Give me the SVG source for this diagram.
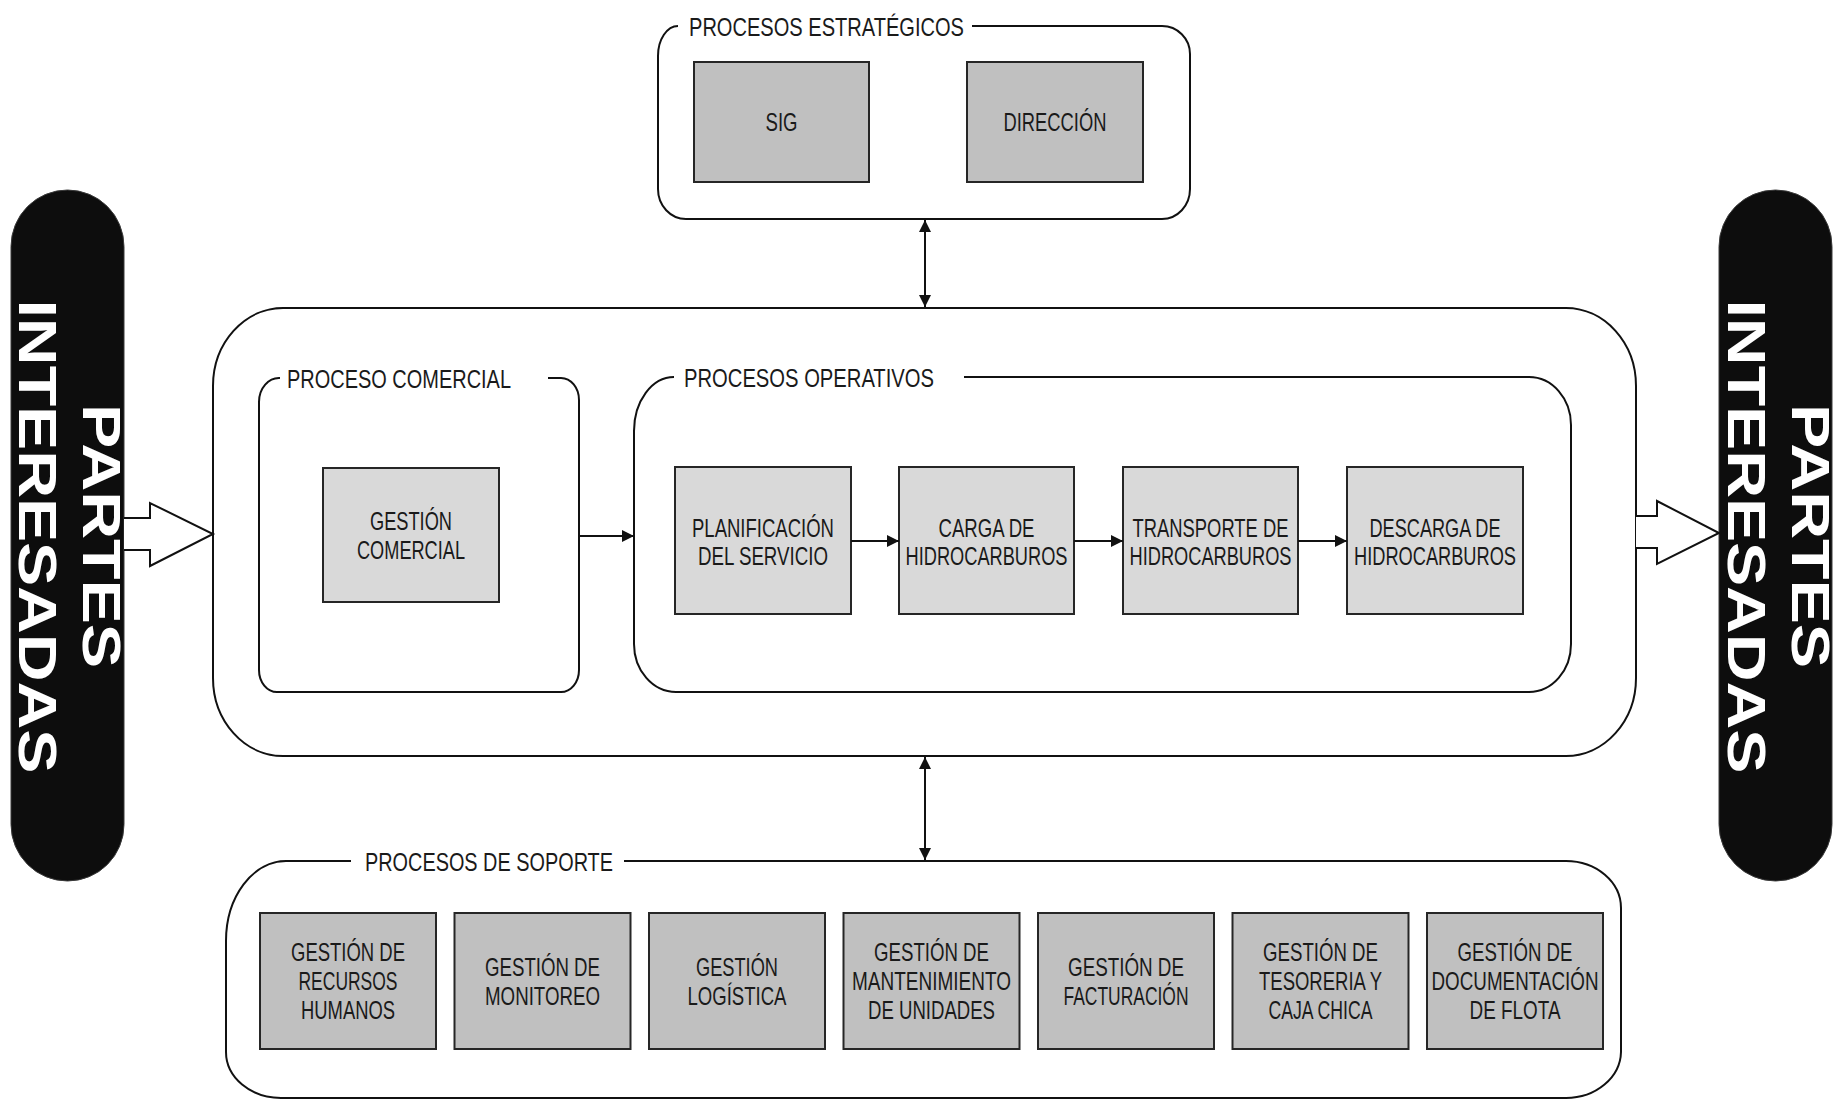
<svg xmlns="http://www.w3.org/2000/svg" width="1837" height="1101" viewBox="0 0 1837 1101">
<style>
.bg{fill:#ffffff}
.grp{fill:none;stroke:#111;stroke-width:2}
.grpw{fill:#ffffff;stroke:#111;stroke-width:2}
.boxd{fill:#c0c0c0;stroke:#262626;stroke-width:2}
.boxl{fill:#d9d9d9;stroke:#262626;stroke-width:2}
.pill{fill:#0d0d0d;stroke:#3a3a3a;stroke-width:1}
.t{font-family:"Liberation Sans",Arial,sans-serif;font-size:26px;fill:#1a1a1a;text-anchor:middle}
.lbl{font-family:"Liberation Sans",Arial,sans-serif;font-size:26px;fill:#1a1a1a;text-anchor:start}
.pt{font-family:"Liberation Sans",Arial,sans-serif;font-size:53px;font-weight:bold;fill:#ffffff;text-anchor:middle}
.con{fill:none;stroke:#111;stroke-width:2}
.hollow{fill:#ffffff;stroke:#111;stroke-width:2;stroke-linejoin:miter}
</style>
<defs>
<marker id="ah" markerUnits="userSpaceOnUse" markerWidth="13" markerHeight="12" refX="12" refY="6" orient="auto-start-reverse">
<path d="M0,0 L12,6 L0,12 z" fill="#111"/>
</marker>
</defs>
<rect class="bg" x="0" y="0" width="1837" height="1101"/>

<!-- Main container -->
<g id="main-container">
<rect class="grpw" x="213" y="308" width="1423" height="448" rx="70" ry="78"/>
</g>

<!-- Strategic -->
<g id="procesos-estrategicos">
<path class="grp" d="M 972,26 H 1162 A 28,28 0 0 1 1190,54 V 189 A 28,30 0 0 1 1162,219 H 686 A 28,30 0 0 1 658,189 V 56 A 20,30 0 0 1 678,26"/>
<text class="lbl" x="689" y="36" textLength="275" lengthAdjust="spacingAndGlyphs">PROCESOS ESTRATÉGICOS</text>
</g>
<g id="sig">
<rect class="boxd" x="694" y="62" width="175" height="120"/>
<text class="t" x="781.5" y="131" textLength="32" lengthAdjust="spacingAndGlyphs">SIG</text>
</g>
<g id="direccion">
<rect class="boxd" x="967" y="62" width="176" height="120"/>
<text class="t" x="1055" y="131" textLength="103" lengthAdjust="spacingAndGlyphs">DIRECCIÓN</text>
</g>

<!-- Comercial -->
<g id="proceso-comercial">
<path class="grp" d="M 548,378 H 561 A 18,22 0 0 1 579,400 V 670 A 18,22 0 0 1 561,692 H 277 A 18,22 0 0 1 259,670 V 402 A 20,24 0 0 1 280,378"/>
<text class="lbl" x="287" y="388" textLength="224" lengthAdjust="spacingAndGlyphs">PROCESO COMERCIAL</text>
</g>
<g id="gestion-comercial">
<rect class="boxl" x="323" y="468" width="176" height="134"/>
<text class="t" x="411" y="530" textLength="82" lengthAdjust="spacingAndGlyphs">GESTIÓN</text>
<text class="t" x="411" y="559" textLength="108" lengthAdjust="spacingAndGlyphs">COMERCIAL</text>
</g>

<!-- Operativos -->
<g id="procesos-operativos">
<path class="grp" d="M 964,377 H 1529 A 42,48 0 0 1 1571,425 V 644 A 42,48 0 0 1 1529,692 H 676 A 42,48 0 0 1 634,644 V 431 A 40,54 0 0 1 674,377"/>
<text class="lbl" x="684" y="387" textLength="250" lengthAdjust="spacingAndGlyphs">PROCESOS OPERATIVOS</text>
</g>
<g id="planificacion">
<rect class="boxl" x="675" y="467" width="176" height="147"/>
<text class="t" x="763" y="537" textLength="142" lengthAdjust="spacingAndGlyphs">PLANIFICACIÓN</text>
<text class="t" x="763" y="565" textLength="130" lengthAdjust="spacingAndGlyphs">DEL SERVICIO</text>
</g>
<g id="carga">
<rect class="boxl" x="899" y="467" width="175" height="147"/>
<text class="t" x="986.5" y="537" textLength="96" lengthAdjust="spacingAndGlyphs">CARGA DE</text>
<text class="t" x="986.5" y="565" textLength="162" lengthAdjust="spacingAndGlyphs">HIDROCARBUROS</text>
</g>
<g id="transporte">
<rect class="boxl" x="1123" y="467" width="175" height="147"/>
<text class="t" x="1210.5" y="537" textLength="156" lengthAdjust="spacingAndGlyphs">TRANSPORTE DE</text>
<text class="t" x="1210.5" y="565" textLength="162" lengthAdjust="spacingAndGlyphs">HIDROCARBUROS</text>
</g>
<g id="descarga">
<rect class="boxl" x="1347" y="467" width="176" height="147"/>
<text class="t" x="1435" y="537" textLength="131" lengthAdjust="spacingAndGlyphs">DESCARGA DE</text>
<text class="t" x="1435" y="565" textLength="162" lengthAdjust="spacingAndGlyphs">HIDROCARBUROS</text>
</g>

<!-- Soporte -->
<g id="procesos-soporte">
<path class="grp" d="M 624,861 H 1566 A 55,47 0 0 1 1621,908 V 1052 A 55,47 0 0 1 1566,1098 H 281 A 55,46 0 0 1 226,1052 V 941 A 60,80 0 0 1 286,861 H 351"/>
<text class="lbl" x="365" y="871" textLength="248" lengthAdjust="spacingAndGlyphs">PROCESOS DE SOPORTE</text>
</g>
<g id="gestion-rrhh">
<rect class="boxd" x="260" y="913" width="176" height="136"/>
<text class="t" x="348" y="961" textLength="114" lengthAdjust="spacingAndGlyphs">GESTIÓN DE</text>
<text class="t" x="348" y="990" textLength="99" lengthAdjust="spacingAndGlyphs">RECURSOS</text>
<text class="t" x="348" y="1019" textLength="94" lengthAdjust="spacingAndGlyphs">HUMANOS</text>
</g>
<g id="gestion-monitoreo">
<rect class="boxd" x="454.5" y="913" width="176" height="136"/>
<text class="t" x="542.5" y="976" textLength="115" lengthAdjust="spacingAndGlyphs">GESTIÓN DE</text>
<text class="t" x="542.5" y="1005" textLength="115" lengthAdjust="spacingAndGlyphs">MONITOREO</text>
</g>
<g id="gestion-logistica">
<rect class="boxd" x="649" y="913" width="176" height="136"/>
<text class="t" x="737" y="976" textLength="82" lengthAdjust="spacingAndGlyphs">GESTIÓN</text>
<text class="t" x="737" y="1005" textLength="99" lengthAdjust="spacingAndGlyphs">LOGÍSTICA</text>
</g>
<g id="gestion-mantenimiento">
<rect class="boxd" x="843.5" y="913" width="176" height="136"/>
<text class="t" x="931.5" y="961" textLength="115" lengthAdjust="spacingAndGlyphs">GESTIÓN DE</text>
<text class="t" x="931.5" y="990" textLength="159" lengthAdjust="spacingAndGlyphs">MANTENIMIENTO</text>
<text class="t" x="931.5" y="1019" textLength="127" lengthAdjust="spacingAndGlyphs">DE UNIDADES</text>
</g>
<g id="gestion-facturacion">
<rect class="boxd" x="1038" y="913" width="176" height="136"/>
<text class="t" x="1126" y="976" textLength="116" lengthAdjust="spacingAndGlyphs">GESTIÓN DE</text>
<text class="t" x="1126" y="1005" textLength="125" lengthAdjust="spacingAndGlyphs">FACTURACIÓN</text>
</g>
<g id="gestion-tesoreria">
<rect class="boxd" x="1232.5" y="913" width="176" height="136"/>
<text class="t" x="1320.5" y="961" textLength="115" lengthAdjust="spacingAndGlyphs">GESTIÓN DE</text>
<text class="t" x="1320.5" y="990" textLength="123" lengthAdjust="spacingAndGlyphs">TESORERIA Y</text>
<text class="t" x="1320.5" y="1019" textLength="104" lengthAdjust="spacingAndGlyphs">CAJA CHICA</text>
</g>
<g id="gestion-documentacion">
<rect class="boxd" x="1427" y="913" width="176" height="136"/>
<text class="t" x="1515" y="961" textLength="115" lengthAdjust="spacingAndGlyphs">GESTIÓN DE</text>
<text class="t" x="1515" y="990" textLength="167" lengthAdjust="spacingAndGlyphs">DOCUMENTACIÓN</text>
<text class="t" x="1515" y="1019" textLength="91" lengthAdjust="spacingAndGlyphs">DE FLOTA</text>
</g>

<!-- Partes interesadas -->
<g id="partes-interesadas-izq">
<rect class="pill" x="11" y="190" width="113" height="691" rx="56.5" ry="56.5"/>
<text class="pt" transform="translate(83,536) rotate(90)" x="0" y="0" textLength="264" lengthAdjust="spacingAndGlyphs">PARTES</text>
<text class="pt" transform="translate(19,536.5) rotate(90)" x="0" y="0" textLength="474" lengthAdjust="spacingAndGlyphs">INTERESADAS</text>
</g>
<g id="partes-interesadas-der">
<rect class="pill" x="1719" y="190" width="113" height="691" rx="56.5" ry="56.5"/>
<text class="pt" transform="translate(1792,536) rotate(90)" x="0" y="0" textLength="264" lengthAdjust="spacingAndGlyphs">PARTES</text>
<text class="pt" transform="translate(1728,536.5) rotate(90)" x="0" y="0" textLength="474" lengthAdjust="spacingAndGlyphs">INTERESADAS</text>
</g>

<!-- Connectors -->
<g id="connectors">
<path class="hollow" d="M 124,518 H 150 V 503 L 213,534 L 150,566 V 550 H 124"/>
<path class="hollow" d="M 1636,516 H 1657 V 501 L 1719,533 L 1657,564 V 548 H 1636"/>
<line class="con" x1="925" y1="220" x2="925" y2="307" marker-start="url(#ah)" marker-end="url(#ah)"/>
<line class="con" x1="925" y1="757" x2="925" y2="860" marker-start="url(#ah)" marker-end="url(#ah)"/>
<line class="con" x1="579" y1="536" x2="634" y2="536" marker-end="url(#ah)"/>
<line class="con" x1="851" y1="541" x2="899" y2="541" marker-end="url(#ah)"/>
<line class="con" x1="1074" y1="541" x2="1123" y2="541" marker-end="url(#ah)"/>
<line class="con" x1="1298" y1="541" x2="1347" y2="541" marker-end="url(#ah)"/>
</g>
</svg>
